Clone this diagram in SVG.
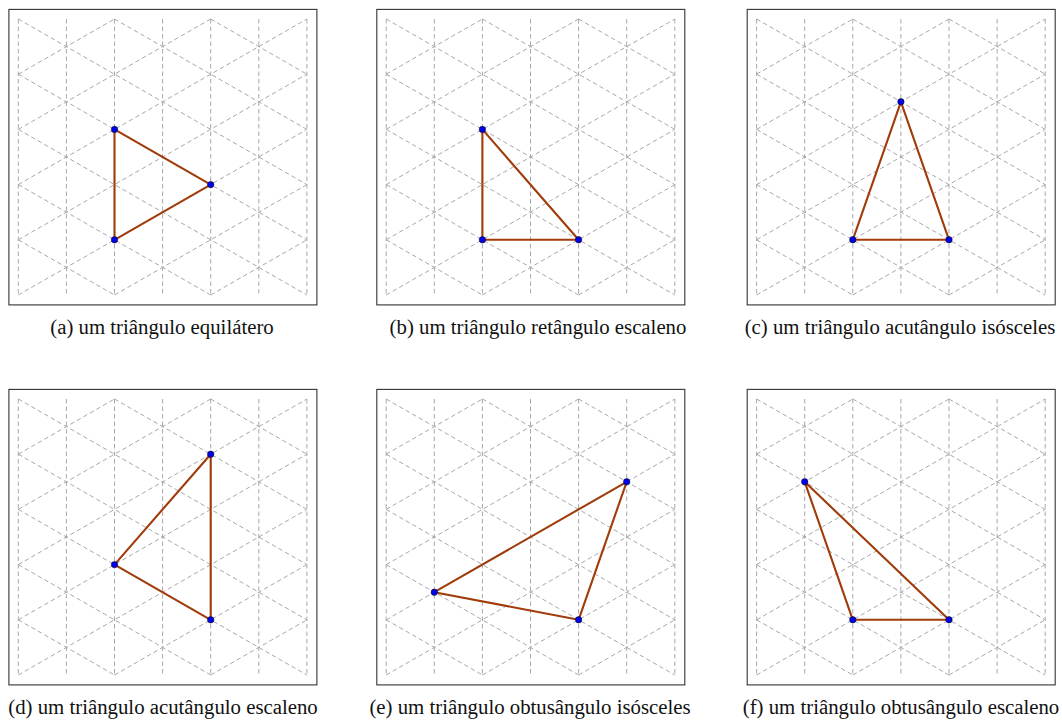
<svg xmlns="http://www.w3.org/2000/svg" xmlns:xlink="http://www.w3.org/1999/xlink" width="1062" height="720" viewBox="0 0 1062 720">
<style>
.frame{fill:#fff;stroke:#333;stroke-width:1.1}
.grid{fill:none;stroke:#a8a8a8;stroke-width:1;stroke-dasharray:4.5 3}
.tri{fill:none;stroke:#a03c0a;stroke-width:2.1;stroke-linejoin:round}
.pt{fill:#0000f0;stroke:#111;stroke-width:0.6}
.cap{font-family:"Liberation Serif","Times New Roman",serif;font-size:20.8px;fill:#111;text-anchor:middle}
</style>
<defs>
<g id="grid">
<rect class="frame" x="-9.4" y="-9.6" width="308" height="295.5"/>
<path class="grid" d="M0,0V276 M48.1,0V276 M96.2,0V276 M144.3,0V276 M192.4,0V276 M240.5,0V276 M288.6,0V276
M192.4,0L288.6,55.2 M96.2,0L288.6,110.4 M0,0L288.6,165.6 M0,55.2L288.6,220.8 M0,110.4L288.6,276 M0,165.6L192.4,276 M0,220.8L96.2,276
M0,55.2L96.2,0 M0,110.4L192.4,0 M0,165.6L288.6,0 M0,220.8L288.6,55.2 M0,276L288.6,110.4 M96.2,276L288.6,165.6 M192.4,276L288.6,220.8"/>
</g>
</defs>
<g id="panel-a" transform="translate(18.3,19)">
<use href="#grid"/>
<polygon class="tri" points="96.2,110.4 192.4,165.6 96.2,220.8"/>
<circle class="pt" cx="96.2" cy="110.4" r="3.2"/><circle class="pt" cx="192.4" cy="165.6" r="3.2"/><circle class="pt" cx="96.2" cy="220.8" r="3.2"/>
</g>
<g id="panel-b" transform="translate(386.2,19)">
<use href="#grid"/>
<polygon class="tri" points="96.2,110.4 96.2,220.8 192.4,220.8"/>
<circle class="pt" cx="96.2" cy="110.4" r="3.2"/><circle class="pt" cx="96.2" cy="220.8" r="3.2"/><circle class="pt" cx="192.4" cy="220.8" r="3.2"/>
</g>
<g id="panel-c" transform="translate(756.6,19)">
<use href="#grid"/>
<polygon class="tri" points="144.3,82.8 96.2,220.8 192.4,220.8"/>
<circle class="pt" cx="144.3" cy="82.8" r="3.2"/><circle class="pt" cx="96.2" cy="220.8" r="3.2"/><circle class="pt" cx="192.4" cy="220.8" r="3.2"/>
</g>
<g id="panel-d" transform="translate(18.3,399)">
<use href="#grid"/>
<polygon class="tri" points="192.4,55.2 96.2,165.6 192.4,220.8"/>
<circle class="pt" cx="192.4" cy="55.2" r="3.2"/><circle class="pt" cx="96.2" cy="165.6" r="3.2"/><circle class="pt" cx="192.4" cy="220.8" r="3.2"/>
</g>
<g id="panel-e" transform="translate(386.2,399)">
<use href="#grid"/>
<polygon class="tri" points="240.5,82.8 48.1,193.2 192.4,220.8"/>
<circle class="pt" cx="240.5" cy="82.8" r="3.2"/><circle class="pt" cx="48.1" cy="193.2" r="3.2"/><circle class="pt" cx="192.4" cy="220.8" r="3.2"/>
</g>
<g id="panel-f" transform="translate(756.6,399)">
<use href="#grid"/>
<polygon class="tri" points="48.1,82.8 96.2,220.8 192.4,220.8"/>
<circle class="pt" cx="48.1" cy="82.8" r="3.2"/><circle class="pt" cx="96.2" cy="220.8" r="3.2"/><circle class="pt" cx="192.4" cy="220.8" r="3.2"/>
</g>
<g id="captions">
<text class="cap" x="162" y="334">(a) um triângulo equilátero</text>
<text class="cap" x="538" y="334">(b) um triângulo retângulo escaleno</text>
<text class="cap" x="900" y="334">(c) um triângulo acutângulo isósceles</text>
<text class="cap" x="163" y="714">(d) um triângulo acutângulo escaleno</text>
<text class="cap" x="530" y="714">(e) um triângulo obtusângulo isósceles</text>
<text class="cap" x="901" y="714">(f) um triângulo obtusângulo escaleno</text>
</g>
</svg>
